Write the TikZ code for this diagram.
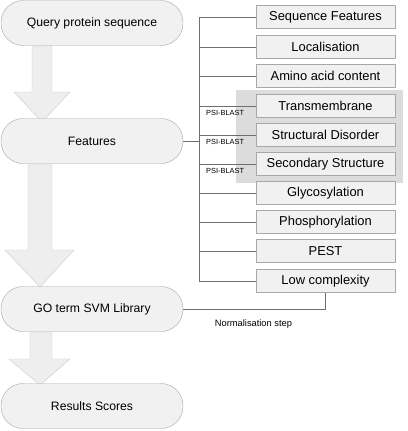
\documentclass[tikz,border=0pt]{standalone}
\usepackage{fontspec}
\setmainfont{Liberation Sans}
\usetikzlibrary{positioning}
\definecolor{boxfill}{HTML}{F1F1F1}
\definecolor{boxline}{HTML}{A8A8A8}
\definecolor{linkgray}{HTML}{6E6E6E}
\definecolor{greyback}{HTML}{DCDCDC}
\begin{document}
\begin{tikzpicture}[x=1pt, y=-1pt, font=\fontsize{12.2}{14}\selectfont, line join=round]
	\tikzset{
		stage/.style={draw=boxline, fill=boxfill, rounded corners=22pt, minimum width=182pt, minimum height=45pt, inner sep=0pt},
		feat/.style={draw=boxline, fill=boxfill, minimum width=139pt, minimum height=23pt, inner sep=0pt, font=\fontsize{12.9}{14}\selectfont},
		bigarrow/.style={draw=boxline!60, fill=boxfill!85!greyback},
		link/.style={draw=linkgray, line width=0.6pt},
		blast/.style={font=\fontsize{7.4}{8}\selectfont, inner sep=0pt},
	}
	\useasboundingbox (0,0) rectangle (407,431);
	\fill[greyback] (236,90) rectangle (403,183);
	% block arrows between the stages
	\draw[bigarrow] (32,46)--(52,46)--(52,92)--(70,92)--(42,122)--(14,92)--(32,92)--cycle;
	\draw[bigarrow] (28,164)--(52,164)--(52,250)--(74,250)--(40,287)--(5,250)--(28,250)--cycle;
	\draw[bigarrow] (30,332)--(52,332)--(52,359)--(70,359)--(40,385)--(9,359)--(30,359)--cycle;
	\node[stage] (query) at (92,23) {Query protein sequence};
	\node[stage] (feats) at (92,141) {Features};
	\node[stage] (svm) at (92,309) {GO term SVM Library};
	\node[stage] (res) at (92,406) {Results Scores};
	\foreach \y/\nm/\txt in {17/seqf/Sequence Features, 47/loc/Localisation, 76/amino/Amino acid content,
		106/tm/Transmembrane, 135/dis/Structural Disorder, 164/sec/Secondary Structure,
		193/gly/Glycosylation, 222/phos/Phosphorylation, 251/pest/PEST, 281/low/Low complexity}
		\node[feat] (\nm) at (325.5,\y) {\txt};
	\coordinate (bus) at (199,0);
	\draw[link] (seqf.west -| bus) -- (low.west -| bus);
	\foreach \nm in {seqf,loc,amino,tm,dis,sec,gly,phos,pest,low}
		\draw[link] (\nm.west -| bus) -- (\nm.west);
	\draw[link] (feats.east) -- (feats.east -| bus);
	\foreach \nm in {tm,dis,sec}
		\node[blast, anchor=west] at ([shift={(7,7)}]\nm.west -| bus) {PSI-BLAST};
	\draw[link] (svm.east) -| (low.south);
	\node[font=\fontsize{9.3}{11}\selectfont] (norm) at (253.5,324) {Normalisation step};
\end{tikzpicture}
\end{document}
